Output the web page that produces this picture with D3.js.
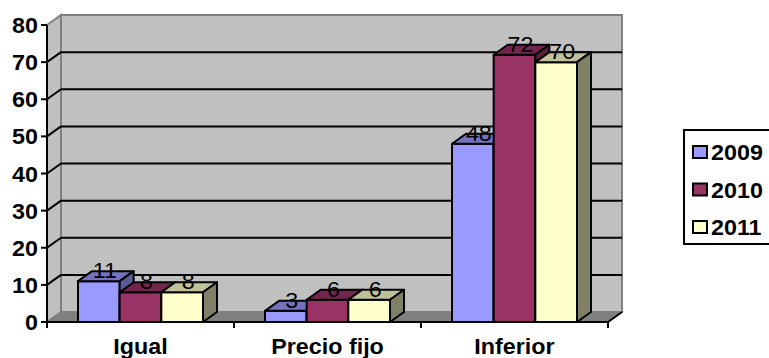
<!DOCTYPE html>
<html>
<head>
<meta charset="utf-8">
<script src="https://cdn.jsdelivr.net/npm/d3@7"></script>
<style>
  html, body { margin: 0; padding: 0; background: #ffffff; }
  svg { display: block; }
  text { font-family: "Liberation Sans", Arial, sans-serif; }
</style>
</head>
<body>
<svg id="chart" width="769" height="358"></svg>
<script>
// Chart data
const categories = ["Igual", "Precio fijo", "Inferior"];
const seriesNames = ["2009", "2010", "2011"];
const values2009 = [11, 3, 48];
const values2010 = [8, 6, 72];
const values2011 = [8, 6, 70];
const yTicks = [0, 10, 20, 30, 40, 50, 60, 70, 80];

const seriesValues = [values2009, values2010, values2011];
const frontColors = ["#9999ff", "#993366", "#ffffcc"];
const topColors   = ["#7373c0", "#73264d", "#c0c099"];
const sideColors  = ["#5c5c99", "#5c1f3d", "#808066"];

const svg = d3.select("#chart");

// Plot geometry: front plane and the depth offset to the back wall
const left = 47, right = 608, base = 322, topY = 25;
const dx = 14, dy = -10;
const sx = 1.06; // horizontal stretch of the text glyphs
const fontSize = 22;

const y = d3.scaleLinear().domain([0, 80]).range([base, topY]);
const x0 = d3.scaleBand().domain(categories).range([left, right]).padding(0);
const x1 = d3.scaleBand().domain(seriesNames).range([31, x0.bandwidth() - 31]).padding(0);

function stretchedText(g, tx, ty, str, anchor, weight) {
  return g.append("text")
    .attr("transform", `translate(${tx},${ty}) scale(${sx},1)`)
    .attr("text-anchor", anchor)
    .attr("font-size", fontSize)
    .attr("font-weight", weight)
    .attr("fill", "#000")
    .text(str);
}

// Walls
const walls = svg.append("g");
// back wall
walls.append("rect")
  .attr("x", left + dx).attr("y", y(80) + dy)
  .attr("width", right - left).attr("height", y(0) - y(80))
  .attr("fill", "#c0c0c0").attr("stroke", "#808080").attr("stroke-width", 2);
// left side wall
walls.append("polygon")
  .attr("points", [[left, y(80)], [left + dx, y(80) + dy], [left + dx, y(0) + dy], [left, y(0)]].join(" "))
  .attr("fill", "#c0c0c0").attr("stroke", "#808080").attr("stroke-width", 2);
// floor
walls.append("polygon")
  .attr("points", [[left, y(0)], [left + dx, y(0) + dy], [right + dx, y(0) + dy], [right, y(0)]].join(" "))
  .attr("fill", "#808080").attr("stroke", "#808080").attr("stroke-width", 1.5);

// Gridlines on the back wall and side wall
const grid = svg.append("g").attr("stroke", "#000").attr("stroke-width", 2).attr("fill", "none");
yTicks.filter(t => t > 0 && t < 80).forEach(t => {
  grid.append("line")
    .attr("x1", left + dx).attr("x2", right + dx)
    .attr("y1", y(t) + dy).attr("y2", y(t) + dy);
  grid.append("line")
    .attr("x1", left).attr("x2", left + dx)
    .attr("y1", y(t)).attr("y2", y(t) + dy);
});

// Floor edge on the right
svg.append("line")
  .attr("x1", right).attr("y1", y(0)).attr("x2", right + dx).attr("y2", y(0) + dy)
  .attr("stroke", "#000").attr("stroke-width", 2);

// Bars: front face, top face, side face, drawn left to right
const bars = svg.append("g").attr("stroke", "#000").attr("stroke-width", 2).attr("stroke-linejoin", "round");
categories.forEach((cat, ci) => {
  seriesNames.forEach((s, si) => {
    const v = seriesValues[si][ci];
    const xl = x0(cat) + x1(s);
    const xr = xl + x1.bandwidth();
    const yt = y(v), yb = y(0);
    bars.append("rect")
      .attr("x", xl).attr("y", yt).attr("width", xr - xl).attr("height", yb - yt)
      .attr("fill", frontColors[si]);
    bars.append("polygon")
      .attr("points", [[xl, yt], [xl + dx, yt + dy], [xr + dx, yt + dy], [xr, yt]].join(" "))
      .attr("fill", topColors[si]);
    bars.append("polygon")
      .attr("points", [[xr, yt], [xr + dx, yt + dy], [xr + dx, yb + dy], [xr, yb]].join(" "))
      .attr("fill", sideColors[si]);
  });
});

// Value labels
const labels = svg.append("g");
categories.forEach((cat, ci) => {
  seriesNames.forEach((s, si) => {
    const v = seriesValues[si][ci];
    const cx = x0(cat) + x1(s) + x1.bandwidth() / 2 + 6;
    stretchedText(labels, cx, y(v) - 3, String(v), "middle", "normal");
  });
});

// Axes
const axisG = svg.append("g").attr("stroke", "#000").attr("stroke-width", 2);
axisG.append("line").attr("x1", left).attr("x2", left).attr("y1", y(80)).attr("y2", y(0));
axisG.append("line").attr("x1", left).attr("x2", right).attr("y1", y(0)).attr("y2", y(0));
yTicks.forEach(t => {
  axisG.append("line").attr("x1", left - 6).attr("x2", left).attr("y1", y(t)).attr("y2", y(t));
});
const xTickPos = categories.map(c => x0(c)).concat([right]);
xTickPos.forEach(px => {
  axisG.append("line").attr("x1", px).attr("x2", px).attr("y1", y(0)).attr("y2", y(0) + 6);
});

const tickLabels = svg.append("g");
yTicks.forEach(t => {
  stretchedText(tickLabels, left - 9, y(t) + 8, String(t), "end", "bold");
});
categories.forEach(c => {
  stretchedText(tickLabels, x0(c) + x0.bandwidth() / 2, 354, c, "middle", "bold");
});

// Legend
const legend = svg.append("g");
legend.append("rect")
  .attr("x", 684).attr("y", 130).attr("width", 100).attr("height", 114)
  .attr("fill", "#fff").attr("stroke", "#000").attr("stroke-width", 2);
seriesNames.forEach((s, i) => {
  const cy = 152 + i * 37.5;
  legend.append("rect")
    .attr("x", 693).attr("y", cy - 6).attr("width", 14).attr("height", 12)
    .attr("fill", frontColors[i]).attr("stroke", "#000").attr("stroke-width", 2);
  stretchedText(legend, 711, cy + 8, s, "start", "bold");
});
</script>
</body>
</html>
